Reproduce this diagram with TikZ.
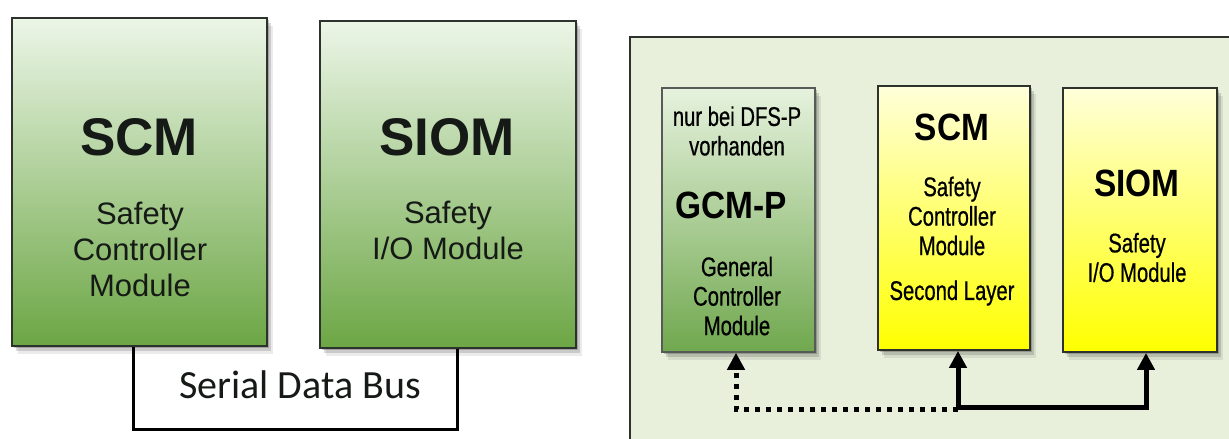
\documentclass[tikz,border=0pt]{standalone}
\usepackage{fontspec}
\newfontfamily\arialf{Liberation Sans}
\newfontfamily\narrowf[FakeStretch=0.75,FakeBold=0.6]{Liberation Sans}
\newfontfamily\narrowtf[FakeStretch=0.88]{Liberation Sans}
\newfontfamily\calibrif{Carlito}
\usetikzlibrary{shadows,arrows.meta,calc}
\definecolor{gtop}{RGB}{236,246,232}
\definecolor{gbot}{RGB}{108,166,68}
\definecolor{g2top}{RGB}{230,242,222}
\definecolor{g2bot}{RGB}{112,168,78}
\definecolor{ytop}{RGB}{255,255,218}
\definecolor{ybot}{RGB}{255,255,0}
\definecolor{panelbg}{RGB}{232,240,220}
\definecolor{edge}{RGB}{45,50,45}
\definecolor{txt}{RGB}{22,26,22}
\tikzset{
  softshadow/.style={
    drop shadow={shadow xshift=2pt,shadow yshift=-2pt,opacity=0.2,fill=black},
    drop shadow={shadow xshift=4pt,shadow yshift=-5pt,opacity=0.14,fill=black},
    drop shadow={shadow xshift=6pt,shadow yshift=-8pt,opacity=0.08,fill=black}},
  greenbox/.style={draw=edge,line width=2pt,top color=gtop,bottom color=gbot,softshadow,inner sep=0pt},
  greenbox2/.style={draw=edge!80,line width=1.5pt,top color=g2top,bottom color=g2bot,softshadow,inner sep=0pt},
  yellowbox/.style={draw=edge,line width=1.8pt,top color=ytop,bottom color=ybot,softshadow,inner sep=0pt},
  bigtitle/.style={text=txt,font=\arialf\bfseries\fontsize{53}{60}\selectfont,inner sep=0pt},
  bigsub/.style={text=txt,font=\arialf\fontsize{31}{36}\selectfont,align=center,inner sep=0pt},
  ntitle/.style={text=black,font=\narrowtf\bfseries\fontsize{38}{44}\selectfont,inner sep=0pt},
  nsub/.style={text=black,font=\narrowf\fontsize{27}{29.5}\selectfont,align=center,inner sep=0pt},
  bus/.style={draw=black,line width=3pt},
  link/.style={draw=black,line width=5pt,-{Triangle[width=17pt,length=17pt]}},
  dotlink/.style={draw=black,line width=5pt,dash pattern=on 5pt off 6pt,-{Triangle[width=17pt,length=17pt]}}
}
\begin{document}
\begin{tikzpicture}[x=1pt,y=-1pt]
\useasboundingbox (0,0) rectangle (1229,439);
% ---------- left diagram ----------
\node[greenbox,minimum width=255pt,minimum height=328pt] (scmL) at (139.5,182) {};
\node[greenbox,minimum width=256pt,minimum height=327pt] (siomL) at (448,184.5) {};
\node[bigtitle] (scmLt) at (139,137) {SCM};
\node[bigsub] (scmLs) at (140,249) {Safety\\Controller\\Module};
\node[bigtitle] (siomLt) at (447,137) {SIOM};
\node[bigsub] (siomLs) at (448,230.5) {Safety\\I/O Module};
\coordinate (b1) at (133,429);
\coordinate (b2) at (457,429);
\draw[bus] (b1 |- scmL.south) -- (b1) -- (b2) -- (b2 |- siomL.south);
\node[text=txt,font=\calibrif\fontsize{40}{46}\selectfont,anchor=base,inner sep=0pt] (busl) at (300,398) {Serial Data Bus};
% ---------- right diagram ----------
\begin{scope}
\clip (0,0) rectangle (1229,439);
\node[draw=edge,line width=1.5pt,fill=panelbg,minimum width=640pt,minimum height=430pt,anchor=north west,inner sep=0pt] (panel) at (629,36) {};
\end{scope}
\node[greenbox2,minimum width=153pt,minimum height=264pt] (gcm) at (738.5,220) {};
\node[yellowbox,minimum width=152pt,minimum height=264pt] (scmR) at (954,218) {};
\node[yellowbox,minimum width=154pt,minimum height=264pt] (siomR) at (1140,220) {};
\node[nsub] (gcmnote) at (737,131) {nur bei DFS-P\\vorhanden};
\node[ntitle] (gcmt) at (731,205) {GCM-P};
\node[nsub] (gcms) at (737,296) {General\\Controller\\Module};
\node[ntitle] (scmRt) at (952,127) {SCM};
\node[nsub] (scmRs) at (952,216) {Safety\\Controller\\Module};
\node[nsub] (scmRl) at (952,293) {Second Layer};
\node[ntitle] (siomRt) at (1137,183) {SIOM};
\node[nsub] (siomRs) at (1137,257.5) {Safety\\I/O Module};
\coordinate (j) at (958,407);
\coordinate (ja) at (1146,407);
\coordinate (jd) at (958,409);
\coordinate (gd) at (736,409);
\draw[link] (j) -- (j |- scmR.south);
\draw[link] ([xshift=-2.5pt]j) -- (ja) -- (ja |- siomR.south);
\draw[dotlink] (jd) -- (gd) -- (gd |- gcm.south);
\end{tikzpicture}
\end{document}
